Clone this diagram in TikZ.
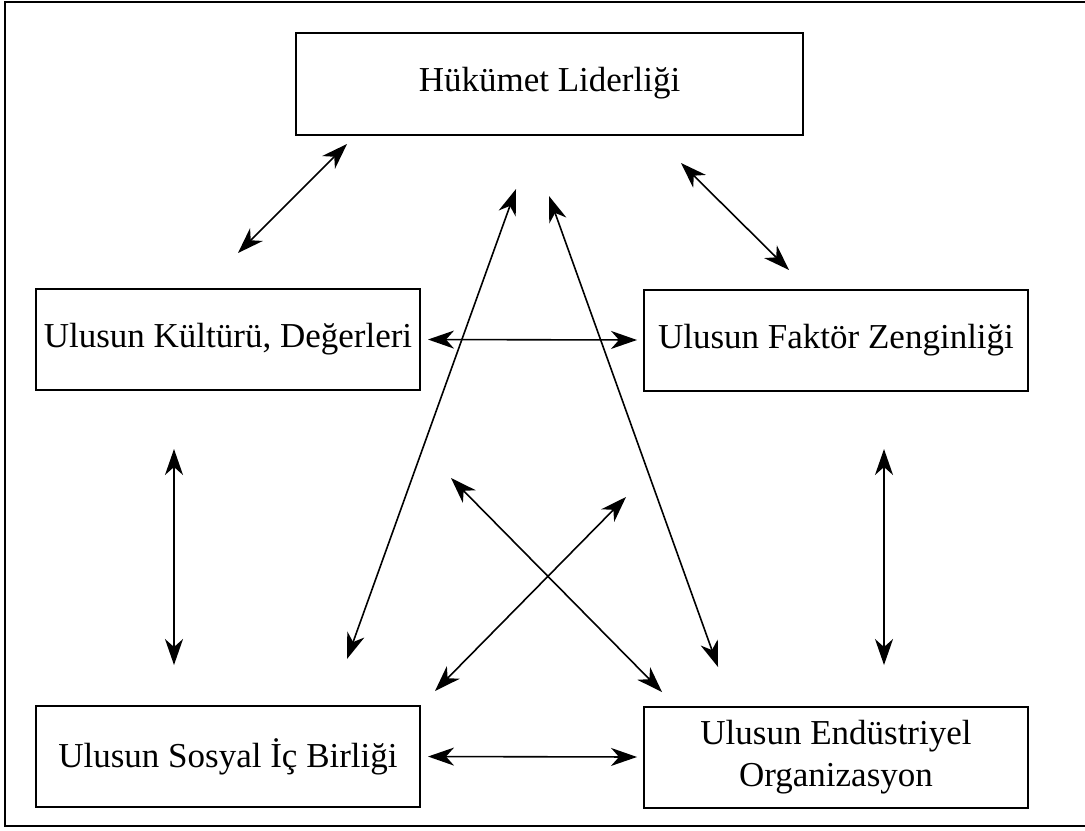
\documentclass[tikz,border=0pt]{standalone}
\usepackage{fontspec}
\setmainfont{Liberation Serif}
\usepackage{tikz}
\usetikzlibrary{arrows.meta}
\usetikzlibrary{positioning}

\tikzset{
  kutu/.style={draw,line width=1pt,minimum width=192pt,minimum height=50.5pt,inner sep=2pt,
    font=\fontsize{17.5}{21}\selectfont,align=center},
  ok/.style={<->,>={Stealth[length=13pt,width=9pt,inset=4pt]},line width=0.8pt}
}

\begin{document}
\begin{tikzpicture}[x=0.5pt,y=-0.5pt]
 \useasboundingbox (0,0) rectangle (1085,830);
 % cerceve
 \draw[line width=1pt] (1086,2)--(5,2)--(5,826)--(1086,826);

 \node[kutu,minimum width=253.5pt,minimum height=51pt] (hukumet) at (549.5,83.5) {H\"uk\"umet Liderli\u{g}i};
 \node[kutu] (kultur) at (228,339.5) {Ulusun K\"ult\"ur\"u, De\u{g}erleri};
 \node[kutu] (faktor) at (836,340) {Ulusun Fakt\"or Zenginli\u{g}i};
 \node[kutu] (sosyal) at (228,756.5) {Ulusun Sosyal \.I\c{c} Birli\u{g}i};
 \node[kutu] (endustri) at (836,757) {Ulusun End\"ustriyel\\Organizasyon};

 \coordinate (hk1) at (347,144);   \coordinate (kh1) at (238,253);
 \coordinate (hf1) at (681,163);   \coordinate (fh1) at (789,270);
 \coordinate (ks1) at (174,449);   \coordinate (sk1) at (174,665);
 \coordinate (fe1) at (884,449);   \coordinate (ef1) at (884,665);
 \coordinate (hs1) at (516,189);   \coordinate (sh1) at (347,659);
 \coordinate (he1) at (549,196);   \coordinate (eh1) at (718,667);
 \coordinate (x1a) at (451,478);   \coordinate (x1b) at (662,692);
 \coordinate (x2a) at (626,497);   \coordinate (x2b) at (435,691);

 \draw[ok] (hk1)--(kh1);
 \draw[ok] (hf1)--(fh1);
 \draw[ok,shorten <=3.5pt,shorten >=3pt] (kultur.east)--(faktor.west);
 \draw[ok] (ks1)--(sk1);
 \draw[ok] (fe1)--(ef1);
 \draw[ok] (hs1)--(sh1);
 \draw[ok] (he1)--(eh1);
 \draw[ok] (x1a)--(x1b);
 \draw[ok] (x2a)--(x2b);
 \draw[ok,shorten <=3.5pt,shorten >=3pt] (sosyal.east)--(endustri.west);
\end{tikzpicture}
\end{document}
